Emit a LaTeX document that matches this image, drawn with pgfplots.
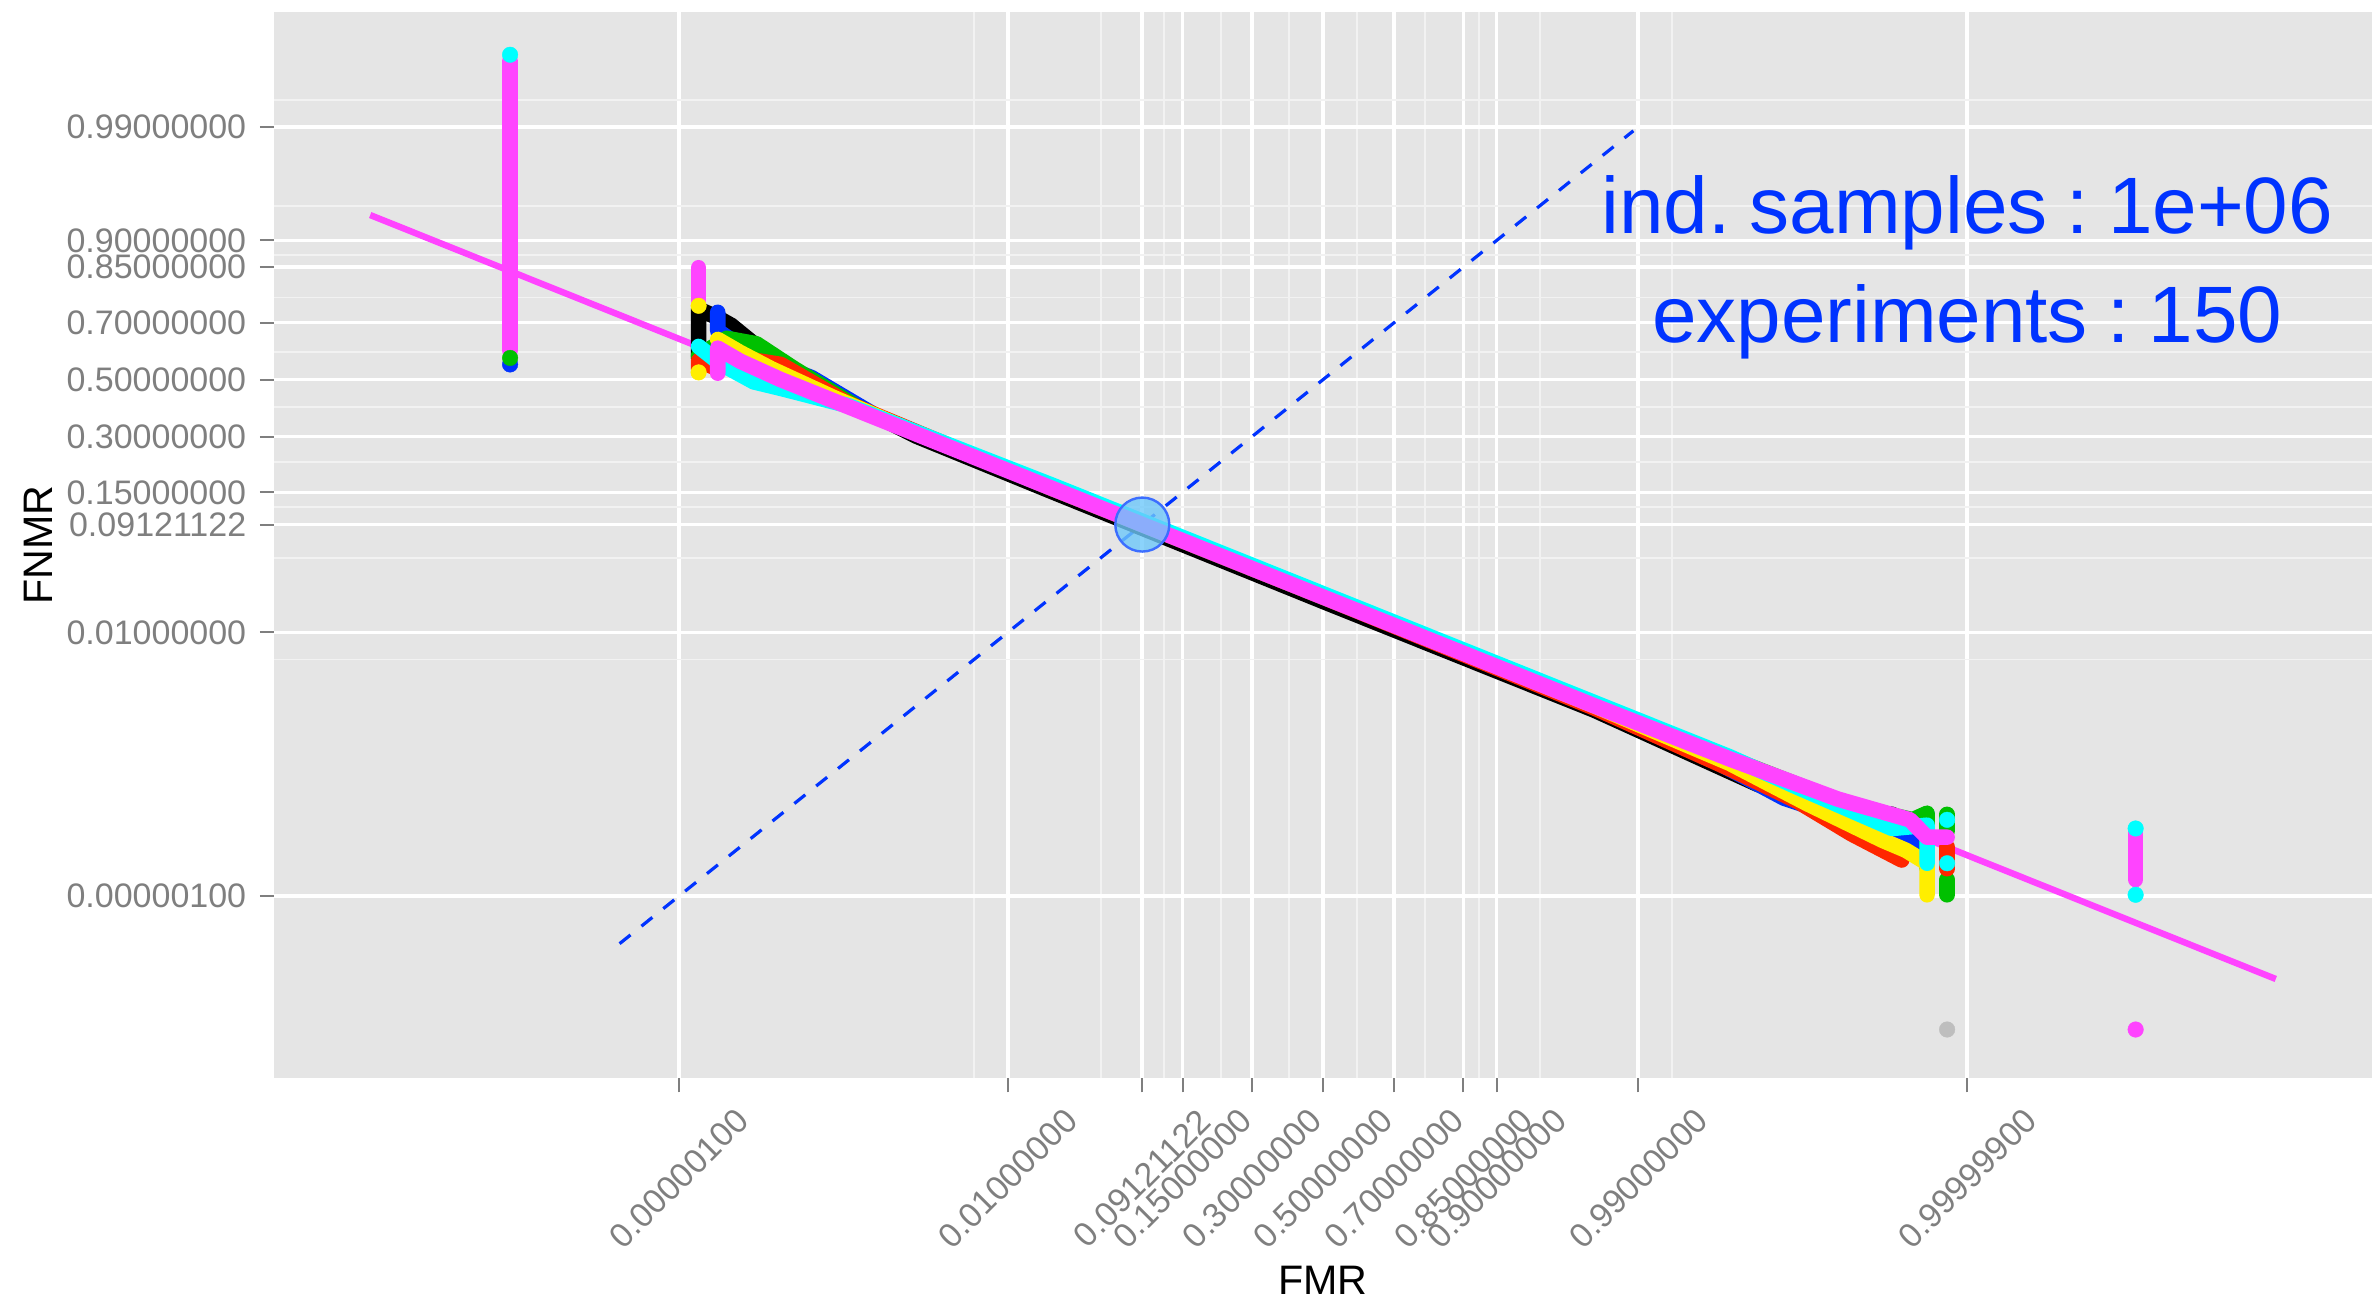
\documentclass[border=0pt]{standalone}
\usepackage{pgfplots}
\pgfplotsset{compat=1.18}
\usepackage{fontspec}
\setmainfont{Liberation Sans}
\definecolor{bg}{HTML}{E5E5E5}
\definecolor{mgrid}{HTML}{F2F2F2}
\definecolor{tickgray}{HTML}{7F7F7F}
\definecolor{cmag}{HTML}{FF44FF}
\definecolor{ccyan}{HTML}{00FFFF}
\definecolor{cgreen}{HTML}{00C000}
\definecolor{cred}{HTML}{FF2600}
\definecolor{cyellow}{HTML}{FFEE00}
\definecolor{cblue}{HTML}{0033FF}
\definecolor{cgray}{HTML}{BEBEBE}
\definecolor{circfill}{HTML}{6EC8FA}
\definecolor{circdraw}{HTML}{3C6EFF}
\pgfplotsset{
  pts/.style={line width=3.9pt, line cap=round, line join=round, mark=none},
  dot/.style={only marks, mark=*, mark size=1.95pt, mark options={solid, line width=0.1pt}}
}
\newcommand{\gapsp}{\hspace{0.24em}}
\begin{document}
\begin{tikzpicture}
\useasboundingbox (-68.5pt,-55.25pt) rectangle (525.25pt,269.6pt);
\begin{axis}[
  scale only axis, width=524.5pt, height=266.5pt,
  xmin=-7.74, xmax=7.74, ymin=-6.43, ymax=3.38,
  axis x line*=bottom, axis y line*=left, axis line style={draw=none},
  axis background/.style={fill=bg},
  xtick={-4.753424,-2.326348,-1.333333,-1.036433,-0.524401,0,0.524401,1.036433,1.281552,2.326348,4.753424},
  xticklabels={0.00000100,0.01000000,0.09121122,0.15000000,0.30000000,0.50000000,0.70000000,0.85000000,0.90000000,0.99000000,0.99999900},
  ytick={-4.753424,-2.326348,-1.333333,-1.036433,-0.524401,0,0.524401,1.036433,1.281552,2.326348},
  yticklabels={0.00000100,0.01000000,0.09121122,0.15000000,0.30000000,0.50000000,0.70000000,0.85000000,0.90000000,0.99000000},
  minor xtick={-2.5758,-1.6390,-1.1720,-0.755415,-0.253347,0.253347,0.755415,1.150349,1.598193,2.5758},
  minor ytick={-2.5758,-1.6390,-1.1720,-0.755415,-0.253347,0.253347,0.755415,1.150349,1.598193,2.5758},
  grid=both,
  major grid style={white, line width=0.9pt},
  minor grid style={mgrid, line width=0.45pt},
  tick align=outside, major tick length=3.5pt, minor tick length=0pt,
  tick style={tickgray, line width=0.5pt},
  ticklabel style={font=\fontsize{8.5}{10}\selectfont, text=tickgray, inner sep=0pt},
  xticklabel style={yshift=-21.5pt, rotate=45, anchor=center},
  yticklabel style={anchor=east, xshift=-3.25pt},
  xlabel={FMR}, ylabel={FNMR},
  label style={font=\fontsize{10.3}{12}\selectfont},
  xlabel style={at={(axis description cs:0.5,-0.1895)}, anchor=center},
  ylabel style={at={(axis description cs:-0.1125,0.5)}, anchor=center},
]
% diagonal
\addplot[cblue, line width=0.8pt, dash pattern=on 3.5pt off 3.5pt] coordinates {(-5.19,-5.19) (2.29,2.29)};
% EER circle
\addplot[only marks, mark=*, mark size=6.75pt, mark options={fill=circfill, fill opacity=0.8, draw=circdraw, line width=0.6pt}] coordinates {(-1.3333,-1.3333)};
% fitted line
\addplot[cmag, line width=1.6pt] coordinates {(-7.03,1.515) (7.03,-5.515)};
% gray
\addplot[pts, cgray] coordinates {(-4.366,0.39) (-4.25,0.22) (-3.6,-0.18) (-2,-1.0) (0,-2.0) (2,-3.0) (3.5,-3.75) (4.1,-4.05) (4.457,-4.28)};
\addplot[dot, cgray] coordinates {(4.605,-5.98)};
% black
\addplot[pts, black] coordinates {(-4.607,0.20) (-4.607,0.65) (-4.466,0.57) (-4.366,0.50) (-4.15,0.28) (-3.7,-0.08) (-3.0,-0.52) (-2,-1.03) (0,-2.04) (2,-3.04) (2.9,-3.55) (3.2,-3.72) (3.7,-3.93) (4.2,-4.0)};
% blue
\addplot[dot, cblue] coordinates {(-5.998,0.14)};
\addplot[pts, cblue] coordinates {(-4.466,0.62) (-4.466,0.45) (-4.2,0.22) (-3.775,0.02) (-3.3,-0.33) (-2,-1.0) (0,-2.0) (2,-3.0) (2.8,-3.45) (3.4,-3.85) (4.0,-4.1) (4.457,-4.3) (4.457,-4.0)};
% green
\addplot[dot, cgreen] coordinates {(-5.998,0.20)};
\addplot[pts, cgreen] coordinates {(-4.607,0.22) (-4.40,0.38) (-4.18,0.33) (-3.9,0.1) (-3.4,-0.28) (-2,-1.0) (0,-2.0) (2,-3.0) (3.2,-3.58) (3.9,-3.92) (4.35,-4.05) (4.457,-3.99) (4.457,-4.49)};
\addplot[pts, cgreen] coordinates {(4.605,-4.0) (4.605,-4.15)};
\addplot[pts, cgreen] coordinates {(4.605,-4.6) (4.605,-4.74)};
% red
\addplot[pts, cred] coordinates {(-4.607,0.10) (-4.607,0.175) (-4.466,0.10) (-4.2,0.18) (-4.0,0.14) (-3.5,-0.22) (-2,-1.0) (0,-2.0) (2,-3.02) (3.0,-3.58) (3.5,-3.88) (3.9,-4.18) (4.27,-4.42)};
\addplot[pts, cred] coordinates {(4.605,-4.30) (4.605,-4.50)};
% yellow
\addplot[dot, cyellow] coordinates {(-4.607,0.68)};
\addplot[dot, cyellow] coordinates {(-4.607,0.067)};
\addplot[pts, cyellow] coordinates {(-4.466,0.37) (-4.3,0.25) (-4.07,0.10) (-3.6,-0.17) (-3.0,-0.49) (-2,-0.99) (0,-1.99) (2,-3.0) (3.0,-3.53) (3.57,-3.90) (4.13,-4.24) (4.3,-4.33) (4.457,-4.45) (4.457,-4.60) (4.457,-4.74)};
% cyan
\addplot[dot, ccyan] coordinates {(-5.998,2.99)};
\addplot[pts, ccyan] coordinates {(-4.607,0.306) (-4.45,0.15) (-4.2,-0.02) (-4.0,-0.08) (-3.5,-0.24) (-2,-0.97) (0,-1.97) (2,-2.97) (3.0,-3.47) (3.5,-3.75) (4.2,-4.13) (4.457,-4.1) (4.457,-4.45)};
\addplot[dot, ccyan] coordinates {(4.605,-4.05)};
\addplot[dot, ccyan] coordinates {(4.605,-4.45)};
\addplot[dot, ccyan] coordinates {(5.996,-4.13)};
\addplot[dot, ccyan] coordinates {(5.996,-4.74)};
% magenta
\addplot[pts, cmag] coordinates {(-5.998,0.27) (-5.998,2.93)};
\addplot[pts, cmag] coordinates {(-4.607,0.73) (-4.607,1.03)};
\addplot[pts, cmag] coordinates {(-4.466,0.06) (-4.466,0.29) (-4.3,0.17) (-4.0,0.0) (-3.0,-0.5) (-2,-1.0) (0,-2.0) (2,-3.0) (3.0,-3.49) (3.8,-3.86) (4.33,-4.05) (4.457,-4.21) (4.605,-4.21)};
\addplot[pts, cmag] coordinates {(5.996,-4.17) (5.996,-4.60)};
\addplot[dot, cmag] coordinates {(5.996,-5.98)};
% annotation
\node[anchor=base, text=cblue, font=\fontsize{20}{24}\selectfont] at (axis cs:4.7534,1.345) {ind.\gapsp samples\gapsp:\gapsp 1e+06};
\node[anchor=base, text=cblue, font=\fontsize{20}{24}\selectfont] at (axis cs:4.7534,0.343) {experiments\gapsp:\gapsp 150};
\end{axis}
\end{tikzpicture}
\end{document}
